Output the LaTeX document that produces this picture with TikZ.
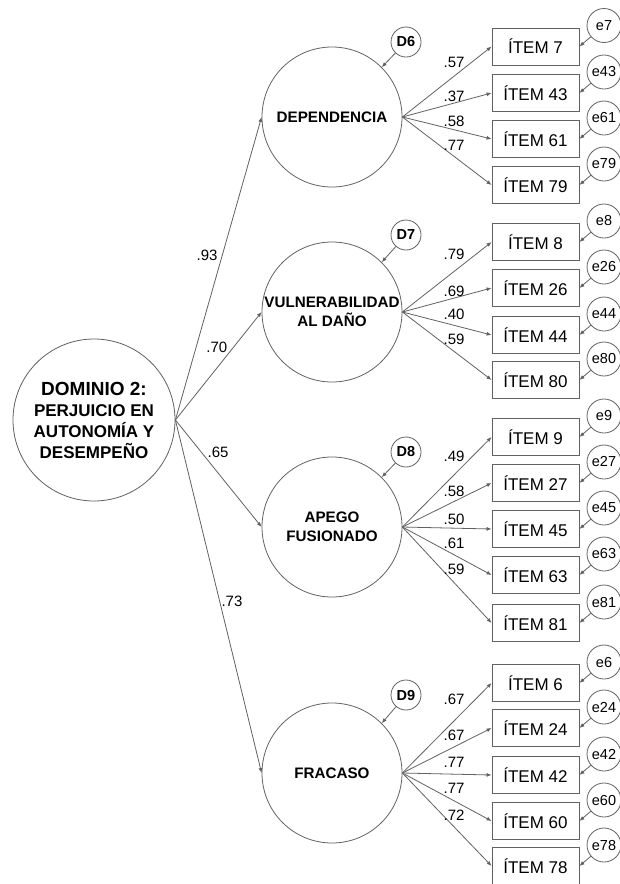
\documentclass[tikz,border=0pt]{standalone}
\usepackage{fontspec}
\setmainfont{Liberation Sans}
\usetikzlibrary{arrows.meta}
\begin{document}
\begin{tikzpicture}[x=1pt,y=-1pt,
  line/.style={draw=black!62, line width=0.8pt},
  arr/.style={line, -{Latex[length=5pt,width=4pt]}},
  factor/.style={circle, line, minimum size=140pt, inner sep=0pt, align=center,
    font=\fontsize{15.2}{19.5}\selectfont\bfseries},
  dominio/.style={circle, line, minimum size=162pt, inner sep=0pt, align=center,
    font=\fontsize{17}{21}\selectfont\bfseries},
  dist/.style={circle, line, minimum size=30pt, inner sep=0pt,
    font=\fontsize{14.5}{16}\selectfont\bfseries},
  err/.style={circle, line, minimum size=34pt, inner sep=0pt,
    font=\fontsize{14.5}{16}\selectfont},
  item/.style={rectangle, line, minimum width=87pt, minimum height=37pt, inner sep=0pt,
    font=\fontsize{17}{19}\selectfont},
  lbl/.style={inner sep=0pt, font=\fontsize{15}{16}\selectfont}
]
\useasboundingbox (0,0) rectangle (620,884);
\clip (0,0) rectangle (620,884);

% second-order domain
\node[dominio] (dom) at (94,420)
  {{\fontsize{19}{21}\selectfont DOMINIO 2:}\\PERJUICIO EN\\AUTONOMÍA Y\\DESEMPEÑO};

% first-order factors
\node[factor] (dep) at (332,117) {DEPENDENCIA};
\node[factor] (vul) at (332,312) {VULNERABILIDAD\\AL DAÑO};
\node[factor] (ape) at (332,527) {APEGO\\FUSIONADO};
\node[factor] (fra) at (332,773) {FRACASO};

% disturbances
\node[dist] (d6) at (406,42) {D6};
\node[dist] (d7) at (406,235) {D7};
\node[dist] (d8) at (406,452) {D8};
\node[dist] (d9) at (406,695) {D9};
\draw[arr] (d6) -- (dep.north east);
\draw[arr] (d7) -- (vul.north east);
\draw[arr] (d8) -- (ape.north east);
\draw[arr] (d9) -- (fra.north east);

% structural paths
\draw[arr] (dom.east) -- node[lbl, pos=0.545, left=4.5pt] {.93} (dep.west);
\draw[arr] (dom.east) -- node[lbl, pos=0.676, left=6pt] {.70} (vul.west);
\draw[arr] (dom.east) -- node[lbl, pos=0.3, right=6pt] {.65} (ape.west);
\draw[arr] (dom.east) -- node[lbl, pos=0.513, right=1.5pt] {.73} (fra.west);

% indicators: factor / item / centre y / loading / label lift
\foreach \f/\n/\y/\w/\s in {
    dep/7/46.5/.57/8pt, dep/43/93/.37/1pt, dep/61/139/.58/3pt, dep/79/185/.77/6pt,
    vul/8/242/.79/11pt, vul/26/288/.69/1pt, vul/44/335/.40/5pt, vul/80/380/.59/6pt,
    ape/9/437/.49/13pt, ape/27/483/.58/4pt, ape/45/529/.50/3.5pt, ape/63/575/.61/6pt, ape/81/623/.59/8pt,
    fra/6/683/.67/16pt, fra/24/728/.67/5.5pt, fra/42/775/.77/6pt, fra/60/821/.77/6.5pt, fra/78/866/.72/6pt} {
  \node[item] (i\n) at (535.5,\y) {ÍTEM \n};
  \node[err] (e\n) at (604,\y-21) {e\n};
  \draw[arr] (e\n) -- (i\n.east);
  \draw[arr] (\f.east) -- node[lbl, pos=0.58, above=\s] {\w} (i\n.west);
}
\end{tikzpicture}
\end{document}
